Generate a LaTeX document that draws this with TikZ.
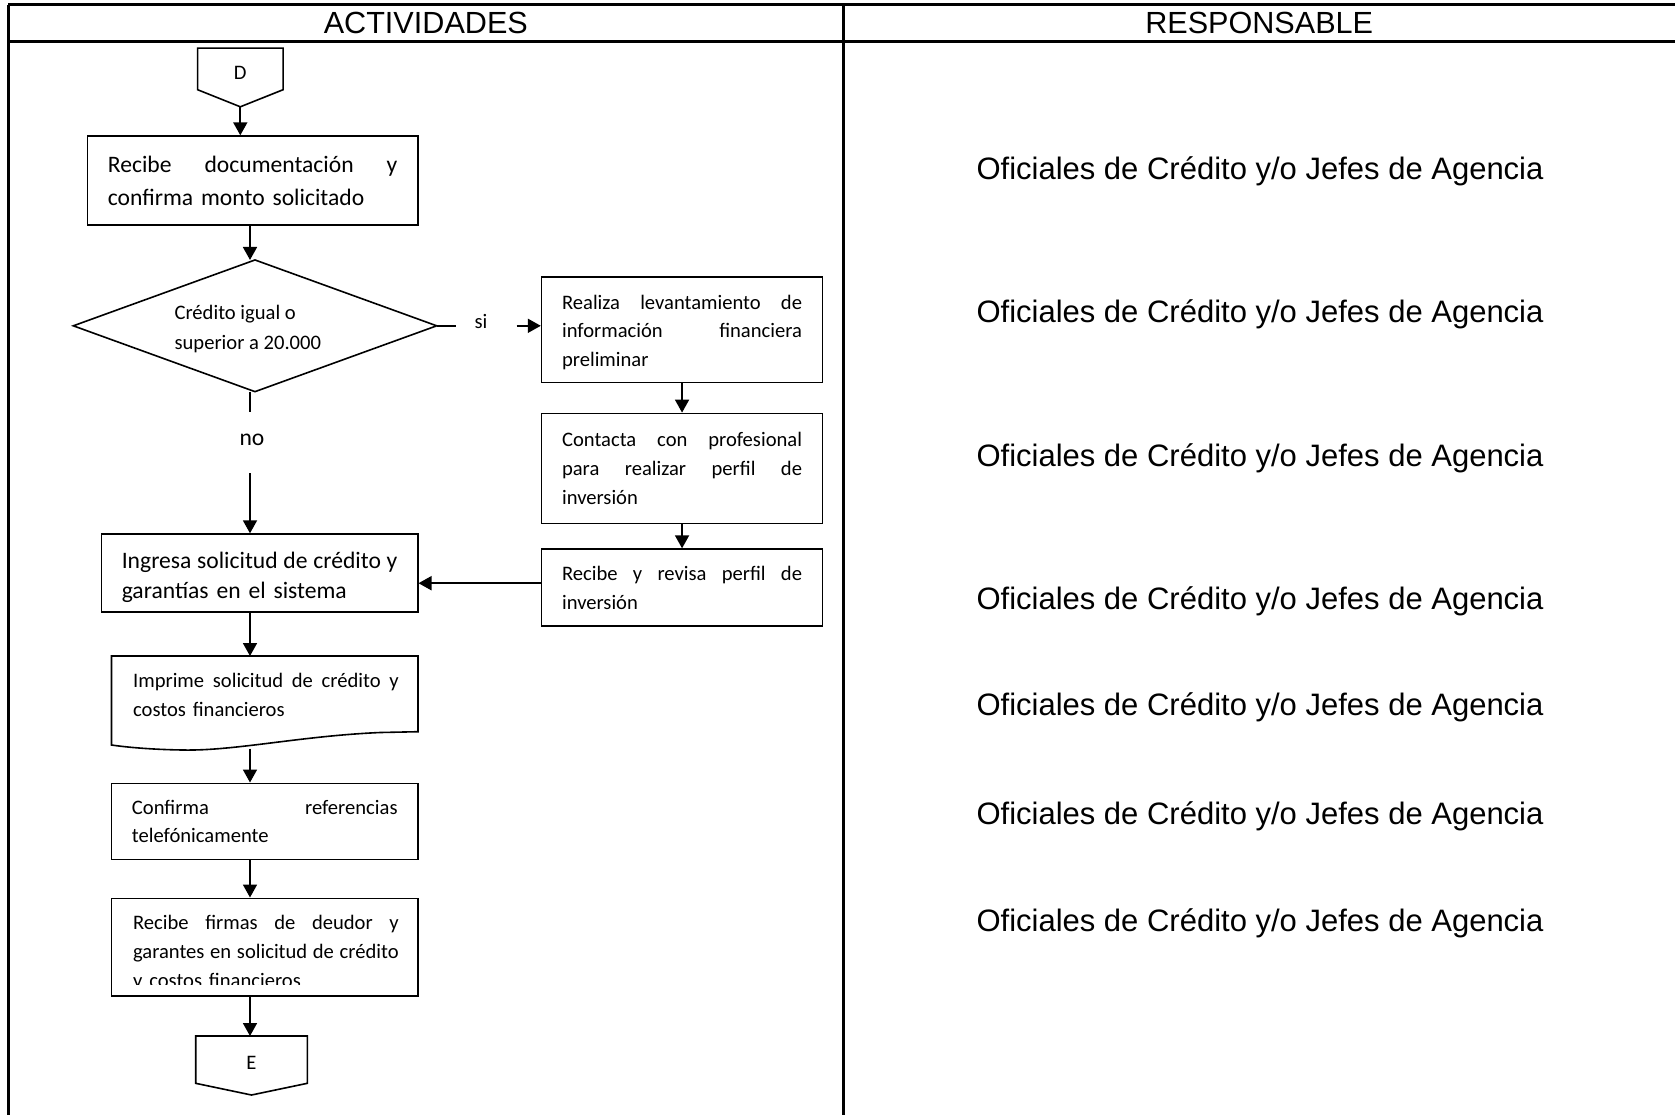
\documentclass[tikz,border=0pt]{standalone}
\usepackage{fontspec}
\setmainfont{Carlito}
\newfontfamily\arialfont{Liberation Sans}
\usetikzlibrary{arrows.meta,shapes.geometric}
% one justified line: words spread over the full text width
\newcommand\jl[1]{\noindent\hbox to\linewidth{#1}\par}

\begin{document}
\begin{tikzpicture}[x=0.5pt,y=-0.5pt,
  grid/.style={line width=1.3pt},
  box/.style={draw,line width=0.8pt,inner sep=0pt,align=left},
  boxtext/.style={inner sep=0pt,align=left},
  shape line/.style={line width=0.8pt},
  big/.style={font=\fontsize{11.8}{16.5}\selectfont},
  small/.style={font=\fontsize{10.3}{14.4}\selectfont},
  arr/.style={line width=0.9pt,-{Triangle[length=6.5pt,width=7pt]}},
  link/.style={line width=0.9pt},
  head/.style={font=\arialfont\fontsize{15.3}{18}\selectfont},
  resp/.style={font=\arialfont\fontsize{15.5}{18}\selectfont},
]
\useasboundingbox (0,0) rectangle (1675,1115);
\fill[white] (0,0) rectangle (1675,1115);

% table frame
\draw[grid] (8.3,4.5) -- (1675,4.5);
\draw[grid] (8.3,41.7) -- (1675,41.7);
\draw[grid] (8.3,4.5) -- (8.3,1115);
\draw[grid] (843.3,4.5) -- (843.3,1115);
\node[head] (act) at (425.8,23) {ACTIVIDADES};
\node[head] (resphead) at (1259.2,23) {RESPONSABLE};

% responsible column
\node[resp] (r1) at (1260,171.5) {Oficiales de Crédito y/o Jefes de Agencia};
\node[resp] (r2) at (1260,314.6) {Oficiales de Crédito y/o Jefes de Agencia};
\node[resp] (r3) at (1260,457.8) {Oficiales de Crédito y/o Jefes de Agencia};
\node[resp] (r4) at (1260,600.9) {Oficiales de Crédito y/o Jefes de Agencia};
\node[resp] (r5) at (1260,707.7) {Oficiales de Crédito y/o Jefes de Agencia};
\node[resp] (r6) at (1260,816.7) {Oficiales de Crédito y/o Jefes de Agencia};
\node[resp] (r7) at (1260,923.5) {Oficiales de Crédito y/o Jefes de Agencia};

% off-page connector D
\draw[shape line] (197.6,48.1) -- (283.1,48.1) -- (283.1,89.7) -- (240.3,106.8) -- (197.6,89.7) -- cycle;
\node[small] (D) at (240.3,73) {D};
\coordinate (Dtip) at (240.3,106.8);

% main column
\coordinate (trunk) at (250,0);
\node[box,big,text width=144.75pt,minimum width=165.05pt,minimum height=44.4pt] (recibe) at (252.65,180.5)
  {\jl{Recibe\hfill documentación\hfill y}confirma monto solicitado};

\node[draw,diamond,shape line,minimum width=181.7pt,minimum height=65.85pt,inner sep=0pt,outer sep=0pt] (dia) at (255,325.8) {};
\node[align=left,anchor=west,font=\fontsize{10.3}{15}\selectfont] (diatxt) at (167.5,328.8) {Crédito igual o\\superior a 20.000};

\node[box,minimum width=158.1pt,minimum height=39pt] (ingresa) at (259.6,573.1) {};
\node[boxtext,font=\fontsize{11.8}{15}\selectfont,text width=137.8pt] (ingresatxt) at (259.6,577)
  {\jl{Ingresa\hfill solicitud\hfill de\hfill crédito\hfill y}garantías en el sistema};

% printed document shape
\draw[shape line] (111.5,656) -- (418,656) -- (418,731.7) -- (380,732.5)
  .. controls (300,736) and (235,751) .. (183,750)
  .. controls (150,749.5) and (125,747) .. (111.5,745) -- cycle;
\coordinate (imptop) at (264.75,656);
\coordinate (impbot) at (250,748.5);
\node[small,anchor=north west,text width=132.8pt,inner sep=0pt,align=left] (imprime) at (132.7,672.5)
  {\jl{Imprime\hfill solicitud\hfill de\hfill crédito\hfill y}costos financieros};

\node[box,small,text width=132.8pt,minimum width=153.25pt,minimum height=38.1pt] (confirma) at (264.75,821.4)
  {\jl{Confirma\hfill referencias}telefónicamente};

\node[box,minimum width=153.25pt,minimum height=48.7pt] (firmas) at (264.75,947) {};
\begin{scope}
  \clip (111.5,898.3) rectangle (418,984.5);
  \node[anchor=north west,text width=132.8pt,inner sep=0pt,align=left,font=\fontsize{10.3}{14.5}\selectfont] (firmastxt) at (132.7,915)
    {\jl{Recibe\hfill firmas\hfill de\hfill deudor\hfill y}\jl{garantes\hfill en\hfill solicitud\hfill de\hfill crédito}y costos financieros};
\end{scope}

% off-page connector E
\draw[shape line] (195.7,1036) -- (307.3,1036) -- (307.3,1083.3) -- (251.5,1095) -- (195.7,1083.3) -- cycle;
\node[small] (E) at (251.5,1063) {E};
\coordinate (Etop) at (251.5,1036);

% right branch
\node[box,minimum width=140.45pt,minimum height=52.85pt] (levanta) at (682.05,329.55) {};
\node[boxtext,small,text width=120pt] (levantatxt) at (682.05,332.3)
  {\jl{Realiza\hfill levantamiento\hfill de}\jl{información\hfill financiera}preliminar};
\node[box,small,text width=120pt,minimum width=140.45pt,minimum height=55pt] (contacta) at (682.05,468.4)
  {\jl{Contacta\hfill con\hfill profesional}\jl{para\hfill realizar\hfill perfil\hfill de}inversión};
\node[box,small,text width=120pt,minimum width=140.45pt,minimum height=38.45pt] (revisa) at (682.05,587.55)
  {\jl{Recibe\hfill y\hfill revisa\hfill perfil\hfill de}inversión};

% connectors
\draw[arr] (Dtip) -- (Dtip |- recibe.north);
\draw[arr] (trunk |- recibe.south) -- (trunk |- dia.north);

\coordinate (siA) at (456,325.8);
\coordinate (siB) at (516.7,325.8);
\draw[link] (dia.east) -- (siA);
\node[small] (si) at (481,321) {si};
\draw[arr] (siB) -- (siB -| levanta.west);

\coordinate (noA) at (250,412.3);
\coordinate (noB) at (250,473.2);
\draw[link] (trunk |- dia.south) -- (noA);
\node[big] (no) at (252,440) {no};
\draw[arr] (noB) -- (trunk |- ingresa.north);

\draw[arr] (levanta.south) -- (contacta.north);
\draw[arr] (contacta.south) -- (revisa.north);
\coordinate (join) at (0,583.2);
\draw[arr] (revisa.west |- join) -- (ingresa.east |- join);

\draw[arr] (trunk |- ingresa.south) -- (trunk |- imptop);
\draw[arr] (impbot) -- (trunk |- confirma.north);
\draw[arr] (trunk |- confirma.south) -- (trunk |- firmas.north);
\draw[arr] (trunk |- firmas.south) -- (trunk |- Etop);
\end{tikzpicture}
\end{document}
